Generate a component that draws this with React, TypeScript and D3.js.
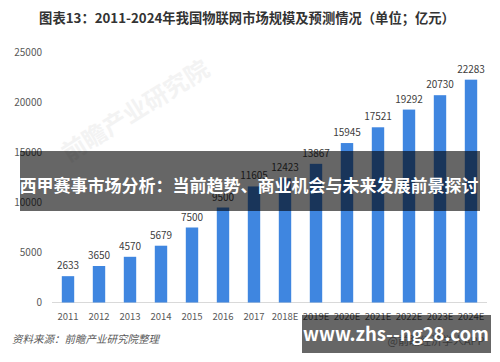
import * as d3 from 'd3';

const years = ['2011', '2012', '2013', '2014', '2015', '2016', '2017', '2018E', '2019E', '2020E', '2021E', '2022E', '2023E', '2024E'];
const market = [2633, 3650, 4570, 5679, 7500, 9500, 11605, 12423, 13867, 15945, 17521, 19292, 20730, 22283];
const yTicks = [0, 5000, 10000, 15000, 20000, 25000];

const width = 500;
const height = 362;
const font = '"Noto Sans CJK SC", "Open Sans", sans-serif';

export default function App() {
  const x = d3.scaleBand(years, [52.5, 486.5]).paddingInner(0.6).paddingOuter(0.3);
  const y = d3.scaleLinear([0, 25000], [302.5, 52.5]);

  return (
    <svg
      width={width}
      height={height}
      style={{ position: 'absolute', left: 0, top: 0, background: '#fff' }}
      fontFamily={font}
    >
      <text x={247} y={23} textAnchor="middle" fontSize={13.3} fontWeight={700} fill="#333">
        图表13：2011-2024年我国物联网市场规模及预测情况（单位；亿元）
      </text>

      {/* faint watermark */}
      <text
        x={140}
        y={118}
        textAnchor="middle"
        fontSize={24}
        fontWeight={700}
        fill="#f3f3f3"
        transform="rotate(-32 140 118)"
      >
        前瞻产业研究院
      </text>

      {yTicks.map((t) => (
        <text key={t} x={42} y={y(t)} dy="0.35em" textAnchor="end" fontSize={10} fill="#595959">
          {t}
        </text>
      ))}

      <line x1={52} x2={487} y1={y(0)} y2={y(0)} stroke="#d9d9d9" strokeWidth={1} />

      {years.map((yr, i) => (
        <g key={yr}>
          <rect
            x={x(yr)!}
            y={y(market[i])}
            width={x.bandwidth()}
            height={y(0) - y(market[i])}
            fill="#3f86e0"
          />
          <text
            x={x(yr)! + x.bandwidth() / 2}
            y={y(market[i]) - 7}
            textAnchor="middle"
            fontSize={10}
            fill="#404040"
          >
            {market[i]}
          </text>
          <text
            x={x(yr)! + x.bandwidth() / 2}
            y={320}
            textAnchor="middle"
            fontSize={9.5}
            fill="#595959"
          >
            {yr}
          </text>
        </g>
      ))}

      <text x={12} y={343} fontSize={10.5} fontStyle="italic" fill="#595959">
        资料来源：前瞻产业研究院整理
      </text>

      {/* headline overlay */}
      <rect x={20} y={151} width={460} height={60} fill="rgba(0,0,0,0.6)" />
      <text x={249} y={192} textAnchor="middle" fontSize={17} fontWeight={700} fill="#fff">
        西甲赛事市场分析：当前趋势、商业机会与未来发展前景探讨
      </text>

      {/* site overlay */}
      <rect x={302} y={315} width={189} height={38} fill="rgba(0,0,0,0.6)" />
      <text x={436} y={345} textAnchor="middle" fontSize={11} fill="#3a3a3a">
        @前瞻经济学人APP
      </text>
      <text x={396} y={341} textAnchor="middle" fontSize={18.5} fontWeight={700} fill="#fff">
        www.zhs--ng28.com
      </text>
    </svg>
  );
}
